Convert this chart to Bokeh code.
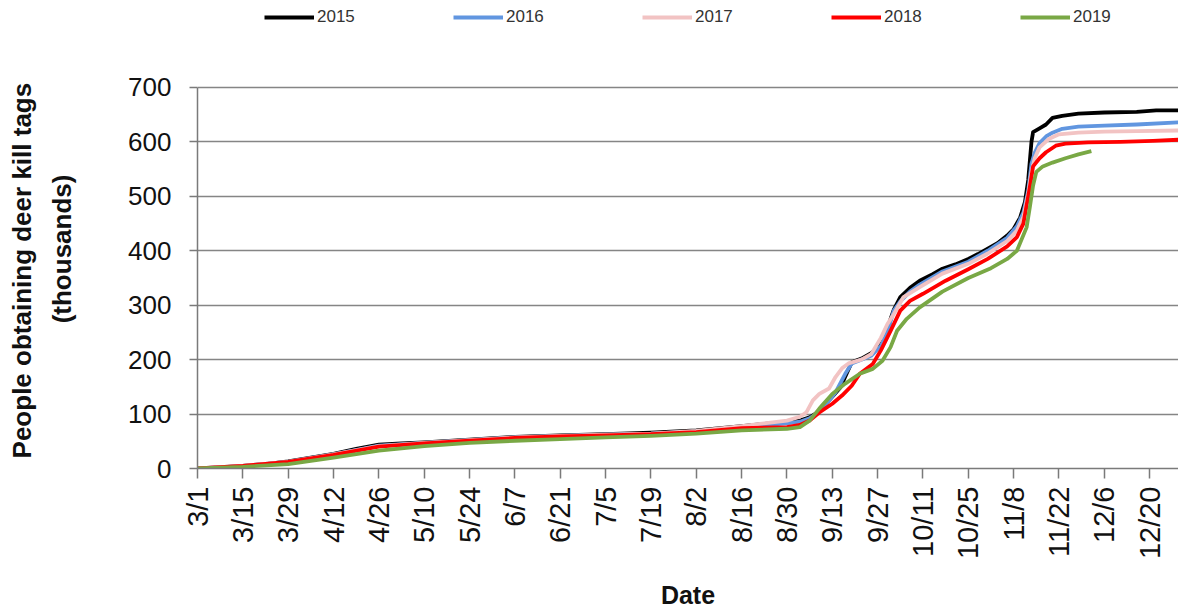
import math
from bokeh.plotting import figure
from bokeh.models import Range1d, FixedTicker, Legend, LegendItem
from bokeh.embed import file_html
from bokeh.resources import INLINE

# x values are days after March 1
tick_days = [0, 14, 28, 42, 56, 70, 84, 98, 112, 126, 140, 154, 168, 182, 196, 210, 224, 238, 252, 266, 280, 294]
tick_labels = ["3/1", "3/15", "3/29", "4/12", "4/26", "5/10", "5/24", "6/7", "6/21", "7/5", "7/19",
               "8/2", "8/16", "8/30", "9/13", "9/27", "10/11", "10/25", "11/8", "11/22", "12/6", "12/20"]
y_ticks = [0, 100, 200, 300, 400, 500, 600, 700]

years = ["2015", "2016", "2017", "2018", "2019"]
colors = ["#000000", "#6196e0", "#f2c3c3", "#ff0000", "#79a845"]

d2015 = [0, 7, 14, 21, 28, 35, 42, 49, 56, 63, 70, 84, 98, 112, 126, 140, 154, 168, 175, 182, 186, 189, 192,
         194, 196, 198.5, 201, 202, 205, 208, 211, 213, 214, 215, 217, 220, 223, 227, 230, 234, 238, 241, 244,
         247, 250, 252, 254, 255.5, 256.5, 257.5, 258, 260, 262, 264, 267, 272, 280, 290, 296, 303]
v2015 = [0, 2, 5, 8, 13, 20, 27, 36, 44, 46, 48, 53, 58, 61, 63, 66, 70, 78, 82, 85, 88, 94, 105,
         119, 132, 149, 182, 195, 202, 212, 228, 245, 275, 292, 315, 332, 345, 357, 367, 375, 385, 394, 404,
         414, 428, 440, 461, 490, 530, 600, 618, 625, 632, 644, 648, 652, 654, 655, 658, 658]

d2016 = [0, 14, 28, 42, 56, 70, 84, 98, 112, 126, 140, 154, 168, 182, 186, 189, 192, 194, 197, 200, 202, 205,
         208, 211, 213, 214, 215, 217, 220, 223, 230, 238, 244, 250, 253, 255, 256.5, 257.5, 258.5, 260, 262,
         264, 267, 272, 280, 290, 303]
v2016 = [0, 5, 12, 26, 42, 47, 52, 57, 60, 62, 64, 68, 76, 83, 86, 92, 104, 117, 140, 174, 193, 200,
         207, 225, 250, 270, 290, 307, 325, 338, 362, 380, 400, 424, 445, 470, 510, 560, 580, 598, 610,
         617, 624, 628, 630, 632, 636]

d2017 = [0, 14, 28, 42, 56, 70, 84, 98, 112, 126, 140, 154, 168, 182, 186, 188, 190, 192, 195, 197, 199, 201,
         205, 208, 211, 213, 215, 218, 223, 230, 238, 244, 250, 253, 255, 256.5, 257.5, 258.5, 260, 263, 266,
         272, 280, 290, 303]
v2017 = [0, 5, 12, 26, 41, 47, 52, 57, 60, 62, 64, 69, 78, 88, 95, 103, 125, 137, 147, 168, 184, 193,
         200, 210, 240, 265, 284, 315, 333, 358, 376, 395, 418, 437, 462, 505, 545, 570, 590, 606, 614,
         617, 619, 620, 621]

d2018 = [0, 14, 28, 42, 56, 70, 84, 98, 112, 126, 140, 154, 168, 182, 186, 189, 192, 196, 199, 202, 204.5,
         208.5, 211, 214, 217, 220, 224, 231, 238, 244, 250, 253, 255, 257, 258, 260, 262, 265, 268, 275,
         285, 295, 303]
v2018 = [0, 5, 12, 25, 40, 46, 51, 56, 59, 61, 63, 67, 74, 76, 80, 88, 103, 119, 134, 152, 174,
         192, 217, 253, 290, 308, 321, 345, 366, 385, 408, 425, 450, 517, 555, 570, 581, 593, 597, 599,
         600, 602, 604]

d2019 = [0, 14, 28, 42, 56, 70, 84, 98, 112, 126, 140, 154, 168, 182, 186, 189, 192, 196, 200, 204.5, 208.5,
         211.5, 214, 216, 219, 223, 230, 238, 245, 250, 253, 256, 257, 258, 259, 261, 264, 268, 272, 276]
v2019 = [0, 3, 8, 20, 33, 41, 47, 51, 54, 57, 60, 64, 70, 73, 76, 88, 110, 137, 156, 174, 183,
         198, 223, 253, 275, 296, 325, 350, 368, 385, 400, 443, 480, 520, 545, 555, 562, 570, 577, 583]

xs = [d2015, d2016, d2017, d2018, d2019]
ys = [v2015, v2016, v2017, v2018, v2019]

FONT = "Liberation Sans"
NB = "\u00a0"

# frame extends to the top of the canvas so the legend row can sit inside it;
# y axis line and grid stop at 700
p = figure(width=1178, height=613, output_backend="svg", toolbar_location=None,
           x_range=Range1d(0, 302.9), y_range=Range1d(0, 859.8),
           min_border_left=197, min_border_top=0, min_border_right=0, min_border_bottom=145)
p.outline_line_color = None
p.background_fill_color = "white"
p.border_fill_color = "white"

items = []
for x, y, c, yr in zip(xs, ys, colors, years):
    r = p.line(x, y, line_color=c, line_width=3.8, line_join="round")
    items.append(LegendItem(label=yr, renderers=[r]))

# grid
p.xgrid.visible = False
p.ygrid.ticker = FixedTicker(ticks=y_ticks)
p.ygrid.grid_line_color = "#858585"
p.ygrid.grid_line_width = 1.6

# y axis
p.yaxis.bounds = (0, 700)
p.yaxis.ticker = FixedTicker(ticks=y_ticks)
p.yaxis.axis_line_color = "#7a7a7a"
p.yaxis.axis_line_width = 1.5
p.yaxis.major_tick_line_color = "#7a7a7a"
p.yaxis.major_tick_line_width = 1.5
p.yaxis.major_tick_out = 8
p.yaxis.major_tick_in = 0
p.yaxis.minor_tick_line_color = None
p.yaxis.major_label_text_font = FONT
p.yaxis.major_label_text_font_size = "26px"
p.yaxis.major_label_text_color = "#111111"
p.yaxis.major_label_standoff = 18
p.yaxis.axis_label = "People obtaining deer kill tags" + NB * 10 + "\n(thousands)" + NB * 4
p.yaxis.axis_label_text_font = FONT
p.yaxis.axis_label_text_font_style = "bold"
p.yaxis.axis_label_text_font_size = "26px"
p.yaxis.axis_label_text_line_height = 1.35
p.yaxis.axis_label_text_color = "#111111"
p.yaxis.axis_label_standoff = 48

# x axis
p.xaxis.ticker = FixedTicker(ticks=tick_days)
p.xaxis.major_label_overrides = {d: s for d, s in zip(tick_days, tick_labels)}
p.xaxis.major_label_orientation = math.pi / 2
p.xaxis.axis_line_color = "#7a7a7a"
p.xaxis.axis_line_width = 1.5
p.xaxis.major_tick_line_color = "#7a7a7a"
p.xaxis.major_tick_line_width = 1.5
p.xaxis.major_tick_out = 10
p.xaxis.major_tick_in = 0
p.xaxis.minor_tick_line_color = None
p.xaxis.major_label_text_font = FONT
p.xaxis.major_label_text_font_size = "29px"
p.xaxis.major_label_text_color = "#111111"
p.xaxis.major_label_standoff = 8
p.xaxis.axis_label = "Date"
p.xaxis.axis_label_text_font = FONT
p.xaxis.axis_label_text_font_style = "bold"
p.xaxis.axis_label_text_font_size = "25px"
p.xaxis.axis_label_text_color = "#111111"
p.xaxis.axis_label_standoff = 19

legend = Legend(items=items, orientation="horizontal", location=(67, 441),
                glyph_width=50, glyph_height=16, label_height=20, label_standoff=3, label_width=40, spacing=96,
                padding=0, margin=0, border_line_color=None, background_fill_alpha=0,
                label_text_font=FONT, label_text_font_size="17px",
                label_text_color="#333333")
p.add_layout(legend, "center")

open("out.html", "w").write(file_html(p, INLINE))
